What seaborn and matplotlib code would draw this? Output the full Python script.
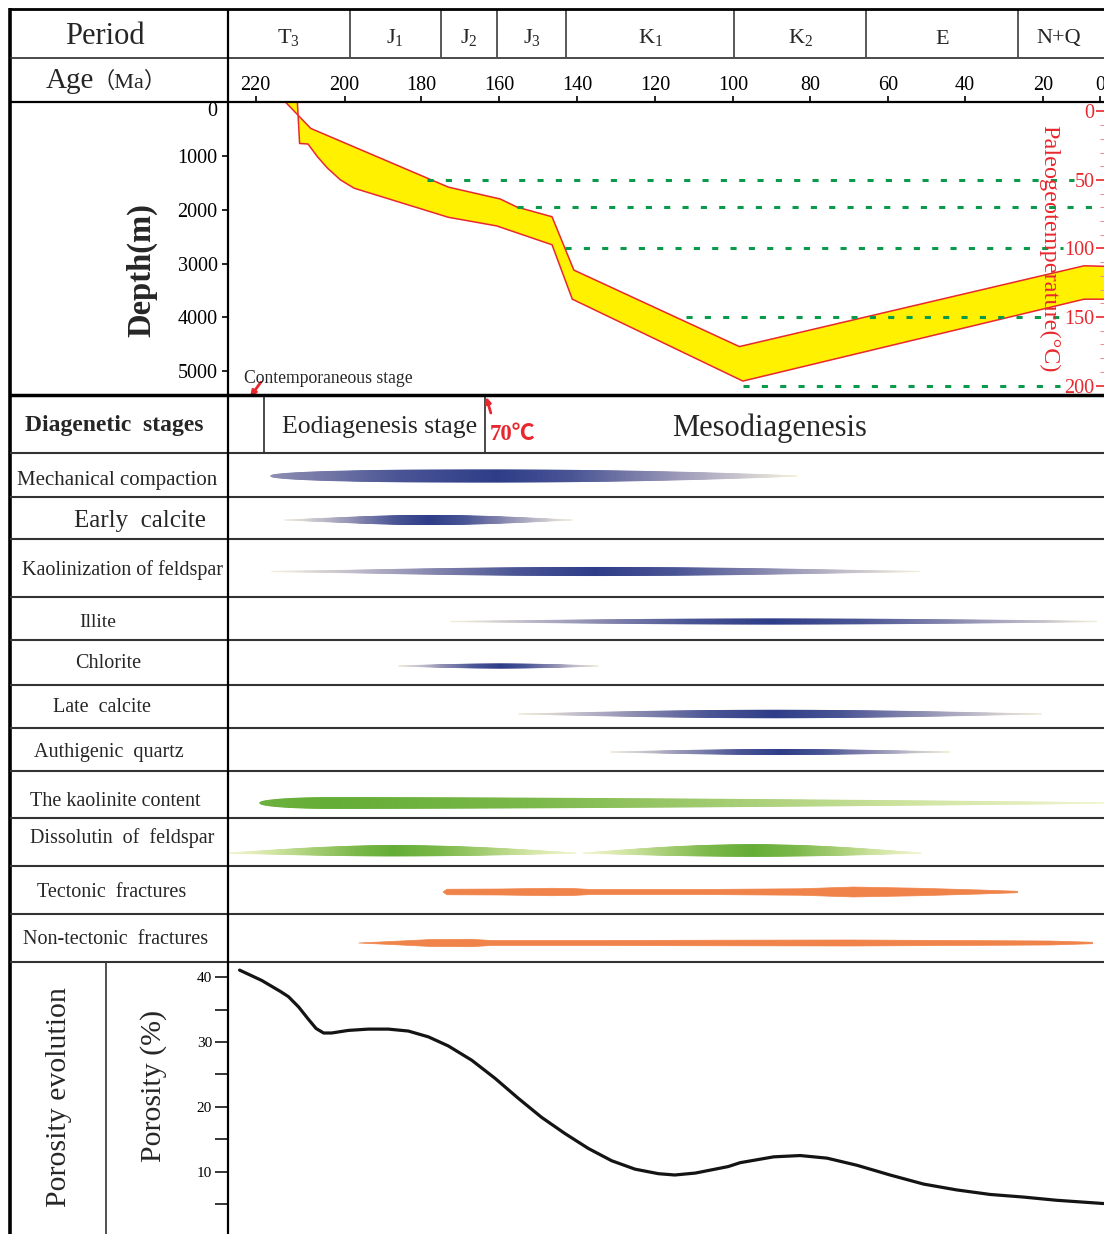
import numpy as np
import matplotlib
matplotlib.use("Agg")
import matplotlib.pyplot as plt
from matplotlib.colors import LinearSegmentedColormap
import seaborn as sns

sns.set_theme(style="white")
SERIF = ["Liberation Serif", "DejaVu Serif"]
SERIF_CJK = ["Liberation Serif", "Noto Sans CJK SC", "DejaVu Serif"]
plt.rcParams["font.family"] = SERIF
plt.rcParams["mathtext.fontset"] = "custom"
plt.rcParams["mathtext.rm"] = "Liberation Serif"
plt.rcParams["mathtext.it"] = "Liberation Serif:italic"
plt.rcParams["mathtext.bf"] = "Liberation Serif:bold"
plt.rcParams["axes.unicode_minus"] = False

# ------------------------------------------------------------------ data
PERIOD_NAMES = [r"$\mathrm{T_3}$", r"$\mathrm{J_1}$", r"$\mathrm{J_2}$", r"$\mathrm{J_3}$",
                r"$\mathrm{K_1}$", r"$\mathrm{K_2}$", "E", "N+Q"]
PERIOD_BOUNDS = [198.7, 175.1, 160.5, 142.8, 99.7, 65.6, 26.4]          # Ma

AGE_TICKS = [220, 200, 180, 160, 140, 120, 100, 80, 60, 40, 20, 0]
DEPTH_TICKS = [0, 1000, 2000, 3000, 4000, 5000]
TEMP_TICKS = [0, 50, 100, 150, 200]

# burial history of the reservoir interval (top / base), age in Ma, depth in m
TOP_AGE = [213.3, 207.6, 173.1, 159.8, 155.5, 146.5, 140.9, 98.4, 5.6, -1.4]
TOP_DEPTH = [0, 490, 1580, 1800, 1950, 2130, 3120, 4540, 3040, 3050]
BASE_AGE = [210.6, 210.1, 208.2, 206.1, 203.8, 200.9, 197.5, 173.1, 160.7,
            146.5, 141.3, 97.5, 5.6, -1.4]
BASE_DEPTH = [0, 770, 780, 1015, 1230, 1447, 1600, 2140, 2300,
              2650, 3660, 5180, 3660, 3660]

# isotherms (deg C) and the age span over which each is traced
ISO_TEMP = [50, 70, 100, 150, 200]
ISO_FROM = [178.6, 155.5, 143.1, 112.2, 97.5]
ISO_TO = [9.0, -1.4, 13.0, 14.0, 14.0]

# diagenetic stage boundaries (Ma)
STAGE_BOUNDS = [218.0, 163.6]

# diagenetic events drawn as graded lenses: start / peak / end age, relative strength
NAVY_EVENTS = ["Mechanical compaction", "Early calcite", "Kaolinization of feldspar",
               "Illite", "Chlorite", "Late calcite", "Authigenic quartz"]
NAVY_START = [216.6, 213.5, 216.4, 172.6, 186.0, 155.1, 131.5]
NAVY_PEAK = [160.8, 178.1, 135.6, 90.4, 159.7, 89.4, 87.5]
NAVY_END = [83.4, 141.3, 51.8, 1.0, 134.6, 20.3, 43.9]
NAVY_STRENGTH = [1.0, 0.75, 0.67, 0.42, 0.33, 0.62, 0.40]

KAOLINITE_START, KAOLINITE_PEAK, KAOLINITE_END, KAOLINITE_STRENGTH = 219.1, 203.1, -1.4, 0.9

DISSOLUTION_START = [226.0, 138.5]
DISSOLUTION_PEAK = [187.3, 95.1]
DISSOLUTION_END = [140.3, 51.4]
DISSOLUTION_STRENGTH = [0.85, 0.95]

TECTONIC_AGE = [174.6, 173.6, 159.7, 146.9, 141.3, 136.7, 108.5, 82.6, 69.0, 51.7, 36.1, 26.7]
TECTONIC_STRENGTH = [0.0, 0.46, 0.50, 0.62, 0.58, 0.42, 0.42, 0.54, 0.83, 0.62, 0.33, 0.12]
NONTECTONIC_AGE = [196.4, 185.5, 177.7, 167.4, 162.3, 134.1, 108.5, 69.7, 43.9, 17.5, 2.8]
NONTECTONIC_STRENGTH = [0.0, 0.33, 0.58, 0.62, 0.42, 0.42, 0.46, 0.50, 0.42, 0.33, 0.12]

# porosity evolution (%)
POROSITY_AGE = [223.6, 218.6, 214.4, 212.6, 210.3, 208.1, 206.4, 204.7, 202.9, 199.0,
                193.8, 188.6, 183.4, 178.2, 173.1, 167.1, 161.1, 155.1, 149.2, 143.2,
                137.2, 131.2, 125.2, 119.2, 115.0, 109.7, 101.3, 98.2, 89.5, 82.6,
                75.7, 68.0, 59.5, 50.8, 42.2, 33.6, 25.1, 15.2, -1.2]
POROSITY = [41.1, 39.5, 37.8, 37.0, 35.4, 33.5, 32.1, 31.4, 31.4, 31.8,
            32.0, 32.0, 31.7, 30.8, 29.4, 27.2, 24.4, 21.3, 18.4, 15.9,
            13.6, 11.7, 10.4, 9.7, 9.5, 9.8, 10.8, 11.4, 12.3, 12.5,
            12.1, 11.0, 9.5, 8.1, 7.2, 6.5, 6.1, 5.6, 5.1]
POROSITY_TICKS = [5, 10, 15, 20, 25, 30, 35, 40]

# ------------------------------------------------------------------ style
RED = "#e8282e"
YELLOW = "#fff100"
GREEN_DOT = "#0b9a4c"
ORANGE = "#f0834a"
LINE = "#2b2b2b"
BAR_PX = 12.0  # thickness (px) of a lens at full strength

NAVY_CMAP = LinearSegmentedColormap.from_list(
    "navy", ["#f4f0da", "#bdb9c9", "#8384ad", "#4a5595", "#2e3d88"])
GREEN_CMAP = LinearSegmentedColormap.from_list(
    "green", ["#f4f6d2", "#d2e6a4", "#a5cd73", "#7bb84a", "#64ad36"])

# the time axis of the chart is drawn with uneven tick spacing
TIME_AGE = [-40, 0, 20, 40, 60, 80, 100, 120, 140, 160, 180, 200, 220, 260]
TIME_POS = [-114, 0, 57, 135, 212, 290, 367, 445, 523, 601, 679, 756, 845, 1023]
AGE_LEFT, AGE_RIGHT = 226.2, -1.4


def time_fwd(a):
    return np.interp(np.asarray(a, float), TIME_AGE, TIME_POS)


def time_inv(u):
    return np.interp(np.asarray(u, float), TIME_POS, TIME_AGE)


W, H = 1104, 1234
fig = plt.figure(figsize=(W / 100, H / 100), dpi=100)
fig.patch.set_facecolor("white")


def px_rect(x0, y0, x1, y1):
    return [x0 / W, 1 - y1 / H, (x1 - x0) / W, (y1 - y0) / H]


X0 = 228
TICK_FS = 14.5
# ------------------------------------------------------------------ burial panel
ax_z = fig.add_axes(px_rect(X0, 102, W, 394))
ax_z.set_xscale("function", functions=(time_fwd, time_inv))
ax_z.set_xlim(AGE_LEFT, AGE_RIGHT)
ax_z.set_ylim(5420, 0)
ax_z.set_facecolor("none")
for s in ax_z.spines.values():
    s.set_visible(False)

ax_z.fill(np.r_[TOP_AGE, BASE_AGE[::-1]], np.r_[TOP_DEPTH, BASE_DEPTH[::-1]],
          color=YELLOW, lw=0, zorder=2)
sns.lineplot(x=TOP_AGE, y=TOP_DEPTH, sort=False, estimator=None, color=RED,
             lw=1.1, ax=ax_z, zorder=3)
sns.lineplot(x=BASE_AGE, y=BASE_DEPTH, sort=False, estimator=None, color=RED,
             lw=1.1, ax=ax_z, zorder=3)

ax_z.xaxis.tick_top()
ax_z.set_xticks(AGE_TICKS)
ax_z.set_xticklabels([str(a) for a in AGE_TICKS])
ax_z.tick_params(axis="x", top=True, bottom=False, labeltop=True, labelbottom=False,
                 direction="out", length=4.5, width=1.2, colors="black",
                 labelsize=TICK_FS, pad=0.5)
ax_z.set_yticks(DEPTH_TICKS)
ax_z.set_yticklabels([str(d) for d in DEPTH_TICKS])
ax_z.tick_params(axis="y", left=True, direction="out", length=4.5, width=1.2,
                 colors="black", labelsize=TICK_FS, pad=3)
ax_z.get_yticklabels()[0].set_verticalalignment("top")
ax_z.set_xlabel("")
ax_z.set_ylabel("")
ax_z.set_xlim(AGE_LEFT, AGE_RIGHT)
ax_z.set_ylim(5420, 0)

ax_z.text(222.5, 5102, "Contemporaneous stage", fontsize=12.7, ha="left",
          va="center_baseline", zorder=5)
ax_z.annotate("", xy=(221.2, 5470), xytext=(218.8, 5200), annotation_clip=False,
              arrowprops=dict(arrowstyle="-|>", color=RED, lw=2.0,
                              mutation_scale=8, shrinkA=0, shrinkB=0))

# temperature axis
ax_t = ax_z.twinx()
ax_t.set_ylim(206.2, -6.9)
ax_t.set_facecolor("none")
for s in ax_t.spines.values():
    s.set_visible(False)
for t, a0, a1 in zip(ISO_TEMP, ISO_FROM, ISO_TO):
    ax_t.plot([a0, a1], [t, t], color=GREEN_DOT, lw=2.2, dashes=(2.0, 4.0), zorder=4)
ax_t.set_yticks(TEMP_TICKS)
ax_t.set_yticklabels([str(t) for t in TEMP_TICKS])
ax_t.set_yticks(np.arange(0, 201, 10), minor=True)
ax_t.tick_params(axis="y", which="major", right=True, left=False, labelright=True,
                 labelleft=False, direction="in", length=6, width=1.2,
                 colors=RED, labelsize=TICK_FS, pad=-7)
ax_t.tick_params(axis="y", which="minor", right=True, left=False, direction="in",
                 length=3, width=0.7, colors="#f08a8d")
for lbl in ax_t.get_yticklabels():
    lbl.set_horizontalalignment("right")
ax_t.set_ylim(206.2, -6.9)

# ------------------------------------------------------------------ period header
ax_h = fig.add_axes(px_rect(X0, 8.7, W, 57.5), sharex=ax_z)
ax_h.axis("off")
ax_h.set_ylim(57.5, 8.7)
ax_h.vlines(PERIOD_BOUNDS, 8.7, 57.5, color=LINE, lw=1.1)
edges = [AGE_LEFT] + PERIOD_BOUNDS + [0.0]
for name, a0, a1 in zip(PERIOD_NAMES, edges[:-1], edges[1:]):
    mid = float(time_inv((time_fwd(a0) + time_fwd(a1)) / 2))
    ax_h.text(mid, 43.5, name, fontsize=16, ha="center", va="baseline")

# ------------------------------------------------------------------ diagenesis table
ROW_EDGES = [394, 453, 497, 539, 597, 640, 684.5, 728, 770.5, 818, 866, 914, 962]
NAVY_Y = [476, 520, 571.5, 621.5, 666, 714, 752]
KAOLINITE_Y = 803
DISSOLUTION_Y = 853
TECTONIC_Y = 891.5
NONTECTONIC_Y = 942.5

ax_d = fig.add_axes(px_rect(X0, 394, W, 962), sharex=ax_z)
ax_d.axis("off")
ax_d.set_ylim(962, 394)
ax_d.vlines(STAGE_BOUNDS, 395, 453, color=LINE, lw=1.2)
ax_d.text(190.8, 424, "Eodiagenesis stage", fontsize=18.5, ha="center", va="center_baseline")
ax_d.text(90.6, 425, "Mesodiagenesis", fontsize=22, ha="center", va="center_baseline")
ax_d.text(162.4, 432, "70℃", fontsize=16.5, fontweight="bold", color=RED,
          ha="left", va="center_baseline", family=SERIF_CJK)
ax_d.annotate("", xy=(163.4, 397), xytext=(162.2, 413), annotation_clip=False,
              arrowprops=dict(arrowstyle="-|>", color=RED, lw=2.0,
                              mutation_scale=8, shrinkA=0, shrinkB=0))


def draw_lens(ax, start, peak, end, strength, y0, cmap, shape, c_start=0.0, up=0.5):
    x = np.linspace(start, end, 500)
    kl, bl, kr, br = shape
    older = x >= peak
    u = np.clip(np.where(older, (x - peak) / (start - peak), (peak - x) / (peak - end)), 0, 1)
    w = np.where(older, (1 - u ** kl) ** bl, (1 - u ** kr) ** br)
    thick = strength * BAR_PX * w
    top = y0 - thick * up
    bot = y0 + thick * (1 - up)
    lev = np.interp(x, [end, peak, start], [0.0, 1.0, c_start])
    ax.pcolormesh(np.vstack([x, x]), np.vstack([top, bot]), np.vstack([lev, lev]),
                  shading="gouraud", cmap=cmap, vmin=0, vmax=1)


NAVY_SHAPES = [(3, 0.5, 2, 1.0)] + [(2, 1.3, 2, 1.3)] * 6
NAVY_CSTART = [0.45, 0, 0, 0, 0, 0, 0]
for i in range(len(NAVY_EVENTS)):
    draw_lens(ax_d, NAVY_START[i], NAVY_PEAK[i], NAVY_END[i], NAVY_STRENGTH[i],
              NAVY_Y[i], NAVY_CMAP, NAVY_SHAPES[i], c_start=NAVY_CSTART[i])

draw_lens(ax_d, KAOLINITE_START, KAOLINITE_PEAK, KAOLINITE_END, KAOLINITE_STRENGTH,
          KAOLINITE_Y, GREEN_CMAP, (2, 0.5, 1.6, 1.0), c_start=0.9)
for s0, pk, e0, st in zip(DISSOLUTION_START, DISSOLUTION_PEAK, DISSOLUTION_END,
                          DISSOLUTION_STRENGTH):
    draw_lens(ax_d, s0, pk, e0, st, DISSOLUTION_Y, GREEN_CMAP, (2, 1.2, 2, 1.2), up=0.72)

for ages, strength, y0 in [(TECTONIC_AGE, TECTONIC_STRENGTH, TECTONIC_Y),
                           (NONTECTONIC_AGE, NONTECTONIC_STRENGTH, NONTECTONIC_Y)]:
    w = np.asarray(strength) * BAR_PX
    ax_d.fill_between(ages, y0 - w / 2, y0 + w / 2, color=ORANGE, lw=0.5)
ax_d.set_ylim(962, 394)

# ------------------------------------------------------------------ porosity panel
ax_p = fig.add_axes(px_rect(X0, 962, W, 1234), sharex=ax_z)
ax_p.set_facecolor("none")
for s in ax_p.spines.values():
    s.set_visible(False)
sns.lineplot(x=POROSITY_AGE, y=POROSITY, sort=False, estimator=None,
             color="#141414", lw=2.3, ax=ax_p)
ax_p.set_yticks(POROSITY_TICKS)
ax_p.set_yticklabels([str(p) if p % 10 == 0 else "" for p in POROSITY_TICKS])
ax_p.tick_params(axis="y", left=True, direction="out", length=9.5, width=1.1,
                 colors="black", labelsize=11, pad=2)
ax_p.tick_params(axis="x", which="both", bottom=False, top=False,
                 labelbottom=False, labeltop=False)
ax_p.set_xlabel("")
ax_p.set_ylabel("")
ax_p.set_ylim(0.4, 42.35)
ax_z.set_xlim(AGE_LEFT, AGE_RIGHT)

# ------------------------------------------------------------------ table frame and labels
ax_f = fig.add_axes([0, 0, 1, 1], zorder=10)
ax_f.axis("off")
ax_f.set_xlim(0, W)
ax_f.set_ylim(H, 0)

ax_f.hlines(8.7, 9.8, W, color="black", lw=2.0)
ax_f.vlines(9.8, 7.5, H, color="black", lw=2.6)
ax_f.hlines(57.5, 9.8, W, color=LINE, lw=1.2)
ax_f.hlines(102.2, 9.8, W, color="black", lw=1.6)
ax_f.hlines(395, 9.8, W, color="black", lw=2.5)
ax_f.hlines(ROW_EDGES[1:], 9.8, W, color="#333333", lw=1.5)
ax_f.vlines(227.5, 8.7, H, color="black", lw=1.6)
ax_f.vlines(106, 962.3, H, color="#333333", lw=1.2)

ax_f.text(105, 33, "Period", fontsize=22, ha="center", va="center_baseline")
ax_f.text(46, 88, "Age", fontsize=21, ha="left", va="baseline")
ax_f.text(92, 88, "（Ma）", fontsize=16, ha="left", va="baseline", family=SERIF_CJK)
ax_f.text(142, 270, "Depth(m)", fontsize=23.5, fontweight="bold", rotation=90,
          ha="center", va="center")
ax_f.text(1049, 249, "Paleogeotemperature(°C)", fontsize=17.5, color=RED, rotation=-90,
          ha="center", va="center")

ROW_LABELS = [
    ("Diagenetic  stages", 114.5, 423, 17, "bold"),
    ("Mechanical compaction", 117.5, 477.5, 15, "normal"),
    ("Early  calcite", 140, 518, 18, "normal"),
    ("Kaolinization of feldspar", 122, 567.5, 14.5, "normal"),
    ("Illite", 98, 620.5, 14, "normal"),
    ("Chlorite", 108.5, 661, 14.5, "normal"),
    ("Late  calcite", 102, 705, 14.5, "normal"),
    ("Authigenic  quartz", 109, 750, 14.5, "normal"),
    ("The kaolinite content", 115, 799, 14.5, "normal"),
    ("Dissolutin  of  feldspar", 122.5, 836, 14.5, "normal"),
    ("Tectonic  fractures", 111.5, 890, 14.5, "normal"),
    ("Non-tectonic  fractures", 116, 937, 14.5, "normal"),
]
for txt, x, y, size, weight in ROW_LABELS:
    ax_f.text(x, y, txt, fontsize=size, fontweight=weight, ha="center",
              va="center_baseline")

ax_f.text(59, 1097, "Porosity evolution", fontsize=21.5, rotation=90,
          ha="center", va="center")
ax_f.text(154, 1086, "Porosity (%)", fontsize=21.5, rotation=90,
          ha="center", va="center")

fig.savefig("out.png", dpi=100, facecolor="white")
